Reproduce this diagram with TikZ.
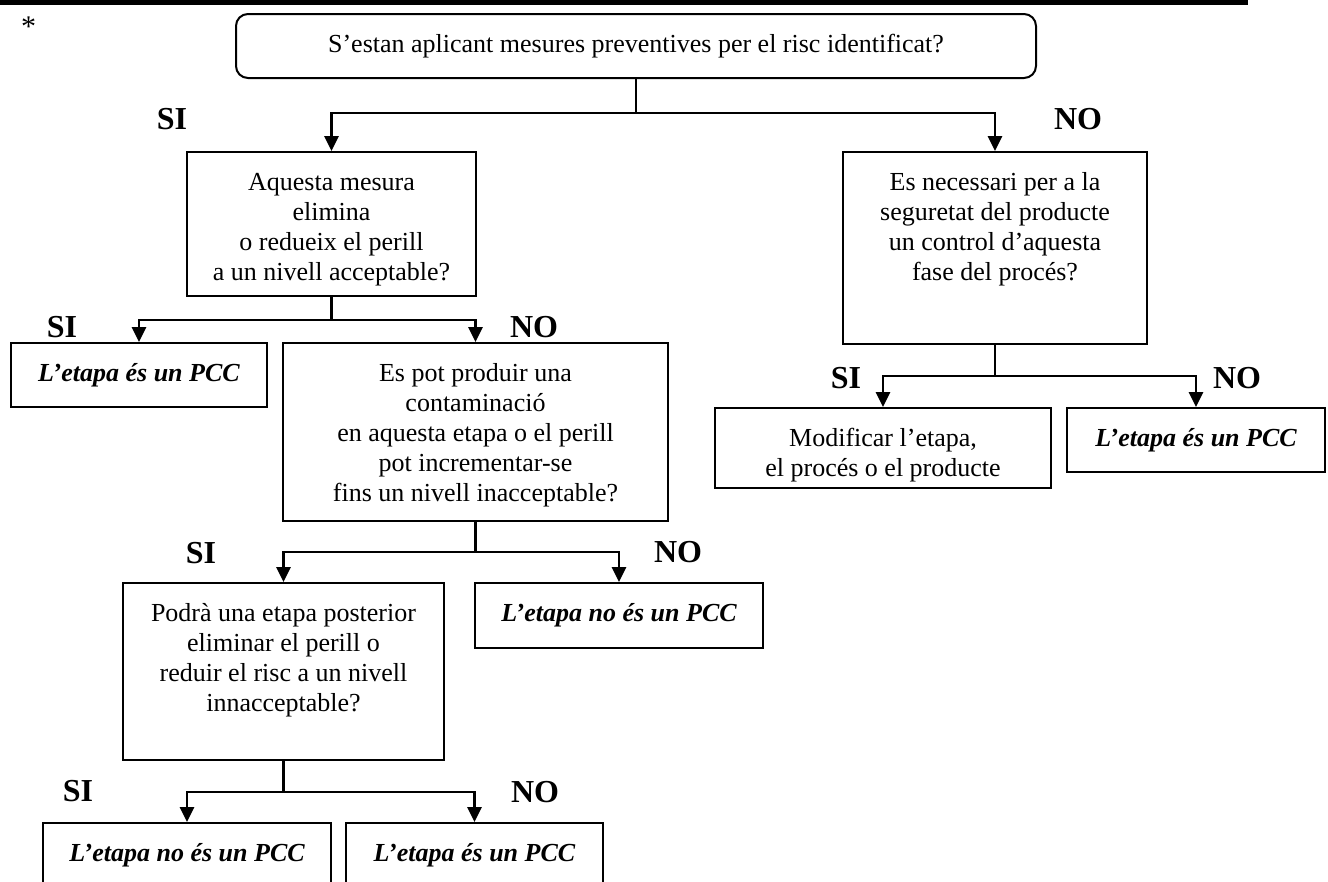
\documentclass[tikz,border=0pt]{standalone}
\usepackage{fontspec}
\setmainfont{Liberation Serif}
\usetikzlibrary{arrows.meta}
\newcommand{\boxtxt}[3]{\parbox[c][#2pt][t]{#1pt}{\centering\rule{0pt}{38pt}#3}}

\begin{document}
\begin{tikzpicture}[x=1pt,y=-1pt,
  question/.style={draw, line width=2pt, inner sep=0pt, font=\fontsize{26}{30}\selectfont},
  verdict/.style={question, font=\fontsize{26}{30}\selectfont\bfseries\itshape},
  answer/.style={inner sep=0pt, font=\fontsize{32}{32}\selectfont\bfseries},
  link/.style={line width=2.8pt},
  flow/.style={link, -{Triangle[width=14pt,length=15pt]}}]
\useasboundingbox (0,0) rectangle (1328,881);
\clip (0,0) rectangle (1328,881);
\draw[line width=4.5pt] (0,2.25) -- (1248,2.25);
\node[anchor=base west, inner sep=0pt, font=\fontsize{30}{30}\selectfont] (star) at (21,36){*};

\node[question, rounded corners=12pt, minimum width=800pt, minimum height=64pt] (top) at (636,46){S’estan aplicant mesures preventives per el risc identificat?};
\node[question] (qa) at (331.5,224){\boxtxt{289}{144}{Aquesta mesura\\elimina\\o redueix el perill\\a un nivell acceptable?}};
\node[question] (qb) at (995,248){\boxtxt{304}{192}{Es necessari per a la\\seguretat del producte\\un control d’aquesta\\fase del procés?}};
\node[verdict] (pcc1) at (139,375){\boxtxt{256}{64}{L’etapa és un PCC}};
\node[question] (qc) at (475.5,432){\boxtxt{385}{178}{Es pot produir una\\contaminació\\en aquesta etapa o el perill\\pot incrementar-se\\fins un nivell inacceptable?}};
\node[question] (modif) at (883,448){\boxtxt{336}{80}{Modificar l’etapa,\\el procés o el producte}};
\node[verdict] (pcc2) at (1196,440){\boxtxt{258}{64}{L’etapa és un PCC}};
\node[question] (qd) at (283.5,671.5){\boxtxt{321}{177}{Podrà una etapa posterior\\eliminar el perill o\\reduir el risc a un nivell\\innacceptable?}};
\node[verdict] (nopcc1) at (619,615.5){\boxtxt{288}{65}{L’etapa no és un PCC}};
\node[verdict] (nopcc2) at (187,858){\boxtxt{288}{70}{L’etapa no és un PCC}};
\node[verdict] (pcc3) at (474.5,858){\boxtxt{257}{70}{L’etapa és un PCC}};

\node[answer] (si0) at (172,119){SI};
\node[answer] (no0) at (1078,119){NO};
\node[answer] (si1) at (62,327){SI};
\node[answer] (no1) at (534,327){NO};
\node[answer] (si2) at (846,378){SI};
\node[answer] (no2) at (1237,378){NO};
\node[answer] (si3) at (201,553){SI};
\node[answer] (no3) at (678,552){NO};
\node[answer] (si4) at (78,791){SI};
\node[answer] (no4) at (535,792){NO};

\coordinate (j0) at (636,113);
\coordinate (j1) at (331.5,320);
\coordinate (j2) at (995,376);
\coordinate (j3) at (475.5,552);
\coordinate (j4) at (283.5,792);
\draw[link](top) -- (j0);
\draw[flow](j0) -| (qa);
\draw[flow](j0) -| (qb);
\draw[link](qa) -- (j1);
\draw[flow](j1) -| (pcc1);
\draw[flow](j1) -| (qc);
\draw[link](qb) -- (j2);
\draw[flow](j2) -| (modif);
\draw[flow](j2) -| (pcc2);
\draw[link](qc) -- (j3);
\draw[flow](j3) -| (qd);
\draw[flow](j3) -| (nopcc1);
\draw[link](qd) -- (j4);
\draw[flow](j4) -| (nopcc2);
\draw[flow](j4) -| (pcc3);
\end{tikzpicture}
\end{document}
